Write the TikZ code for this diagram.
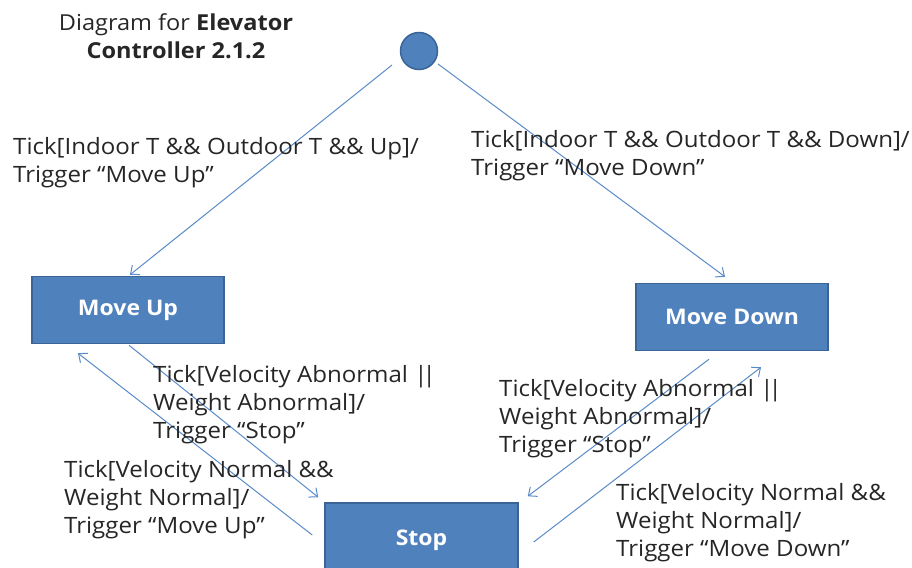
\documentclass[tikz,border=0pt]{standalone}
\usepackage{fontspec}
\setmainfont{Open Sans}[FakeStretch=1.07]
\usetikzlibrary{arrows.meta}
\definecolor{stfill}{HTML}{4F81BD}
\definecolor{stedge}{HTML}{3B6496}
\definecolor{trline}{HTML}{5A8BC9}
\newcommand{\orbars}{|\kern-5pt|}
\tikzset{
  state/.style={draw=stedge, line width=1.5pt, fill=stfill, minimum width=192pt,
    minimum height=67pt, inner sep=0pt, text=white, font=\fontsize{21.5}{26}\selectfont\bfseries},
  initstate/.style={circle, draw=stedge, line width=1.5pt, fill=stfill, minimum size=37pt, inner sep=0pt},
  trans/.style={draw=trline, line width=1pt, -{Straight Barb[length=7pt,width=12pt]}},
  lbl/.style={anchor=west, align=left, inner sep=0pt, font=\fontsize{22.5}{28}\selectfont, text=black!85},
}
\begin{document}
\begin{tikzpicture}[x=1pt,y=-1pt]
\useasboundingbox (0,0) rectangle (912,567);
% title
\node[align=center, inner sep=0pt, font=\fontsize{22}{28}\selectfont, text=black!85] (title) at (176,36)
  {Diagram for \textbf{Elevator}\\\textbf{Controller 2.1.2}};
% states
\node[initstate] (init) at (419,51) {};
\node[state] (mu) at (128,310) {Move Up};
\node[state] (md) at (732,317) {Move Down};
\node[state, minimum width=193pt, minimum height=74pt] (stop) at (421.5,540) {Stop};
% transitions
\draw[trans] ([shift={(-27,14)}]init.center) -- ([shift={(2,-1)}]mu.north);
\draw[trans] ([shift={(19,13)}]init.center) -- ([shift={(-7,-6)}]md.north);
\draw[trans] ([shift={(1,1)}]mu.south) -- ([shift={(-6,-5)}]stop.north west);
\draw[trans] ([shift={(-12,-5)}]stop.west) -- ([shift={(-50,9)}]mu.south);
\draw[trans] ([shift={(-23,8)}]md.south) -- ([shift={(9,-6)}]stop.north east);
\draw[trans] ([shift={(15,2)}]stop.east) -- ([shift={(29,16)}]md.south);
% transition labels
\node[lbl] (l1) at (13,163) {Tick[Indoor T \&\& Outdoor T \&\& Up]/\\Trigger “Move Up”};
\node[lbl] (l2) at (471,156) {Tick[Indoor T \&\& Outdoor T \&\& Down]/\\Trigger “Move Down”};
\node[lbl] (l3) at (153,405) {Tick[Velocity Abnormal \orbars\\Weight Abnormal]/\\Trigger “Stop”};
\node[lbl] (l4) at (64,500) {Tick[Velocity Normal \&\&\\Weight Normal]/\\Trigger “Move Up”};
\node[lbl] (l5) at (499,419) {Tick[Velocity Abnormal \orbars\\Weight Abnormal]/\\Trigger “Stop”};
\node[lbl] (l6) at (616,523) {Tick[Velocity Normal \&\&\\Weight Normal]/\\Trigger “Move Down”};
\end{tikzpicture}
\end{document}
